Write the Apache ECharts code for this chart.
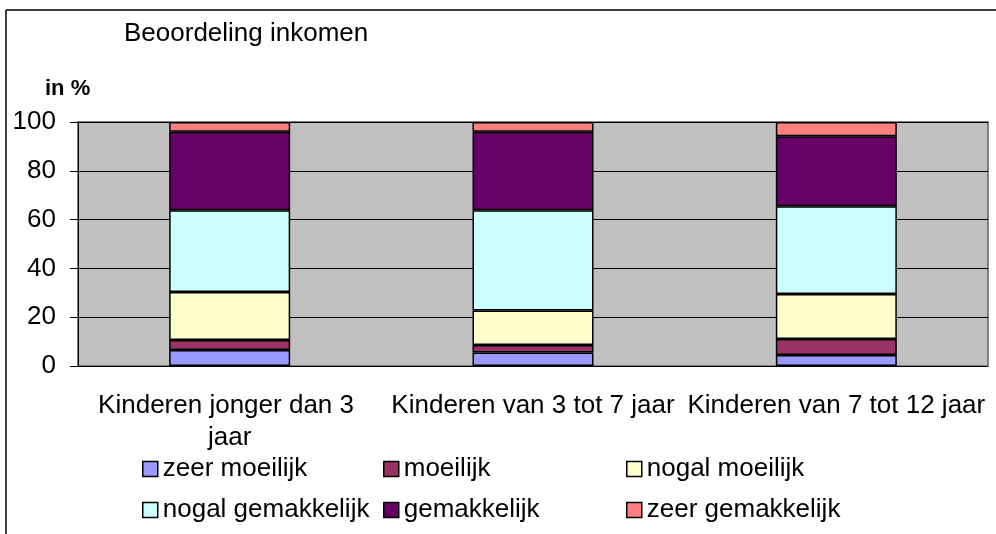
<!DOCTYPE html>
<html lang="nl">
<head>
<meta charset="utf-8">
<title>Beoordeling inkomen</title>
<script src="https://cdn.jsdelivr.net/npm/echarts@6/dist/echarts.min.js"></script>
<style>
  html, body { margin: 0; padding: 0; background: #fff; }
  #chart { width: 996px; height: 534px; }
</style>
</head>
<body>
<div id="chart"></div>
<script>
// categorieën en waarden (in %)
var categories = ['Kinderen jonger dan 3 jaar', 'Kinderen van 3 tot 7 jaar', 'Kinderen van 7 tot 12 jaar'];
var zeerMoeilijk = [6.6, 5.5, 4.5];
var moeilijk = [4.1, 3.1, 6.6];
var nogalMoeilijk = [19.6, 14.1, 18.4];
var nogalGemakkelijk = [33.5, 41.1, 36.0];
var gemakkelijk = [32.2, 32.2, 28.7];
var zeerGemakkelijk = [4.0, 4.0, 5.8];
var yTicks = [0, 20, 40, 60, 80, 100];

var seriesNames = ['zeer moeilijk', 'moeilijk', 'nogal moeilijk', 'nogal gemakkelijk', 'gemakkelijk', 'zeer gemakkelijk'];
var seriesData = [zeerMoeilijk, moeilijk, nogalMoeilijk, nogalGemakkelijk, gemakkelijk, zeerGemakkelijk];
var colors = ['#9999FF', '#993366', '#FFFFCC', '#CCFFFF', '#660066', '#FF8080'];

var font = 'Liberation Sans, Arial, sans-serif';

// legenda in 3 kolommen, 2 rijen
var legendPos = [[142, 456], [383, 456], [626, 456], [142, 497], [383, 497], [626, 497]];
var legends = seriesNames.map(function (name, i) {
    return {
        data: [name],
        left: legendPos[i][0],
        top: legendPos[i][1],
        icon: 'rect',
        itemWidth: 15,
        itemHeight: 15,
        itemGap: 6,
        padding: 0,
        selectedMode: false,
        itemStyle: { borderColor: '#000', borderWidth: 1.5 },
        textStyle: { fontFamily: font, fontSize: 26, color: '#000' }
    };
});

var chart = echarts.init(document.getElementById('chart'), null, { renderer: 'canvas' });
chart.setOption({
    animation: false,
    backgroundColor: '#fff',
    color: colors,
    title: {
        text: 'Beoordeling inkomen',
        left: 124,
        top: 21,
        padding: 0,
        textStyle: { fontFamily: font, fontSize: 26, fontWeight: 'normal', color: '#000' }
    },
    graphic: [
        { type: 'line', shape: { x1: 6, y1: 10, x2: 996, y2: 10 }, style: { stroke: '#000', lineWidth: 1.5 } },
        { type: 'line', shape: { x1: 6, y1: 10, x2: 6, y2: 534 }, style: { stroke: '#000', lineWidth: 1.5 } },
        { type: 'text', left: 45, top: 78, style: { text: 'in %', font: 'bold 22px ' + font, fill: '#000' } }
    ],
    legend: legends,
    grid: {
        left: 78, right: 8, top: 122, bottom: 168,
        show: true,
        backgroundColor: '#C0C0C0',
        borderColor: '#808080',
        borderWidth: 2
    },
    xAxis: {
        type: 'category',
        data: categories,
        axisLine: { show: false },
        axisTick: { show: false },
        axisLabel: {
            interval: 0,
            margin: 24,
            fontFamily: font,
            fontSize: 26,
            color: '#000',
            lineHeight: 32,
            width: 302,
            overflow: 'break'
        }
    },
    yAxis: {
        type: 'value',
        min: yTicks[0],
        max: yTicks[yTicks.length - 1],
        interval: 20,
        axisLine: { show: true, lineStyle: { color: '#000', width: 1 } },
        axisTick: { show: true, length: 8, lineStyle: { color: '#000' } },
        axisLabel: { margin: 22, fontFamily: font, fontSize: 26, color: '#000' },
        splitLine: { show: true, lineStyle: { color: '#000', width: 1 } }
    },
    series: seriesNames.map(function (name, i) {
        return {
            name: name,
            type: 'bar',
            stack: 'totaal',
            data: seriesData[i],
            barWidth: 121,
            itemStyle: { color: colors[i], borderColor: '#000', borderWidth: 1.5 }
        };
    })
});
</script>
</body>
</html>
